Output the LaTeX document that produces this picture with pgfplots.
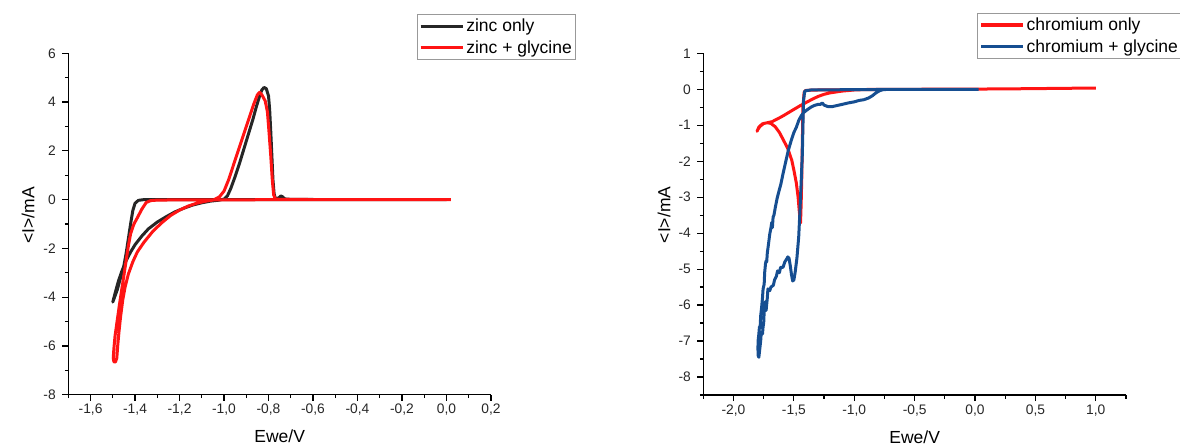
\documentclass[border=0pt]{standalone}
\usepackage{fontspec}
\setmainfont{Liberation Sans}
\usepackage{pgfplots}
\pgfplotsset{compat=1.18}
\definecolor{zblack}{RGB}{38,38,38}
\definecolor{zred}{RGB}{255,20,20}
\definecolor{cblue}{RGB}{22,78,145}
\pgfplotsset{
  cvstyle/.style={
    scale only axis,
    axis x line*=bottom, axis y line*=left,
    axis line style={-, line width=1.2pt, black},
    tick align=outside,
    major tick length=6pt, minor tick length=3.5pt,
    every tick/.style={line width=1.2pt, black},
    /pgf/number format/assume math mode=true,
    ticklabel style={font=\fontsize{13.8}{15}\selectfont, text=black!85},
    yticklabel style={xshift=-3pt},
    xticklabel style={/pgf/number format/.cd, fixed, fixed zerofill, precision=1, use comma},
    label style={font=\fontsize{17.5}{20}\selectfont},
    legend style={draw=gray!80, line width=1pt, inner xsep=2pt, inner ysep=2.5pt,
      font=\fontsize{17.5}{19}\selectfont, cells={anchor=west}, row sep=3.5pt},
    legend image code/.code={\draw[#1, line width=3.2pt] (0pt,0pt) -- (42pt,0pt);},
    legend cell align=left,
    xlabel={Ewe/V}, ylabel={<I>/mA},
    clip=false,
  }
}
\begin{document}
\begin{tikzpicture}
\begin{axis}[cvstyle,
  at={(68.3pt,50.3pt)}, anchor=south west,
  width=422.7pt, height=341.4pt,
  xmin=-1.7, xmax=0.2, ymin=-8, ymax=6,
  xtick={-1.6,-1.4,-1.2,-1.0,-0.8,-0.6,-0.4,-0.2,0.0,0.2},
  minor xtick={-1.7,-1.5,-1.3,-1.1,-0.9,-0.7,-0.5,-0.3,-0.1,0.1},
  ytick={-8,-6,-4,-2,0,2,4,6},
  minor ytick={-7,-5,-3,-1,1,3,5},
  xlabel style={at={(axis description cs:0.5,0)}, anchor=base, yshift=-48pt},
  ylabel style={at={(axis description cs:-0.0953,0.526)}, anchor=center},
  legend style={at={(axis description cs:0.824,1.115)}, anchor=north west},
]
\addplot[zblack, line width=3pt, line join=round] coordinates {
(0.00,0.00) (-0.30,0.00) (-0.60,0.00) (-0.90,0.00) (-1.10,0.00) (-1.30,0.00) (-1.36,0.00)
(-1.385,-0.03) (-1.40,-0.15) (-1.41,-0.45) (-1.42,-1.0) (-1.43,-1.6) (-1.44,-2.2) (-1.45,-2.7)
(-1.465,-3.2) (-1.48,-3.7) (-1.50,-4.2)
(-1.49,-3.85) (-1.475,-3.35) (-1.46,-2.95) (-1.44,-2.5) (-1.42,-2.15) (-1.40,-1.85) (-1.37,-1.5)
(-1.34,-1.2) (-1.30,-0.92) (-1.26,-0.7) (-1.22,-0.5) (-1.18,-0.35) (-1.14,-0.22) (-1.10,-0.13)
(-1.06,-0.06) (-1.02,-0.02) (-1.00,0.02) (-0.985,0.15) (-0.97,0.45) (-0.95,0.95) (-0.93,1.5)
(-0.91,2.1) (-0.89,2.7) (-0.87,3.3) (-0.855,3.8) (-0.84,4.25) (-0.83,4.5) (-0.82,4.6)
(-0.81,4.55) (-0.80,4.25) (-0.795,3.7) (-0.79,2.8) (-0.785,1.8) (-0.78,0.8) (-0.775,0.25)
(-0.77,0.05) (-0.755,0.06) (-0.745,0.15) (-0.737,0.12) (-0.727,0.03) (-0.70,0.01) (-0.50,0.0)
(-0.20,0.0) (0.0,0.0)};
\addlegendentry{zinc only}
\addplot[zred, line width=3pt, line join=round] coordinates {
(0.02,0.00) (-0.30,0.00) (-0.70,0.00) (-1.00,-0.01) (-1.20,-0.01) (-1.30,-0.02) (-1.33,-0.04)
(-1.35,-0.12) (-1.37,-0.4) (-1.39,-0.75) (-1.405,-1.0) (-1.42,-1.4) (-1.43,-1.9) (-1.44,-2.5)
(-1.45,-3.1) (-1.46,-3.7) (-1.47,-4.3) (-1.48,-4.95) (-1.49,-5.6) (-1.495,-6.1) (-1.498,-6.5)
(-1.495,-6.65) (-1.488,-6.66) (-1.482,-6.5) (-1.478,-6.0) (-1.472,-5.4) (-1.465,-4.8)
(-1.455,-4.1) (-1.445,-3.6) (-1.43,-3.05) (-1.41,-2.55) (-1.39,-2.15) (-1.36,-1.75)
(-1.32,-1.3) (-1.28,-0.95) (-1.24,-0.65) (-1.20,-0.43) (-1.16,-0.26) (-1.12,-0.14)
(-1.08,-0.06) (-1.05,-0.02) (-1.04,0.02) (-1.02,0.12) (-1.00,0.35) (-0.98,0.8) (-0.96,1.35)
(-0.94,1.9) (-0.92,2.45) (-0.90,3.0) (-0.88,3.55) (-0.865,3.95) (-0.85,4.3) (-0.84,4.4)
(-0.83,4.3) (-0.815,4.05) (-0.805,3.6) (-0.798,2.8) (-0.79,1.8) (-0.783,0.8) (-0.777,0.2)
(-0.77,0.03) (-0.75,0.01) (-0.50,0.0) (0.02,0.0)};
\addlegendentry{zinc + glycine}
\end{axis}
\begin{axis}[cvstyle,
  at={(703.3pt,50pt)}, anchor=south west,
  width=422.7pt, height=341.7pt,
  xmin=-2.25, xmax=1.25, ymin=-8.5, ymax=1,
  xtick={-2,-1.5,-1,-0.5,0,0.5,1},
  minor xtick={-2.25,-1.75,-1.25,-0.75,-0.25,0.25,0.75,1.25},
  ytick={-8,-7,-6,-5,-4,-3,-2,-1,0,1},
  minor ytick={-8.5,-7.5,-6.5,-5.5,-4.5,-3.5,-2.5,-1.5,-0.5,0.5},
  xlabel style={at={(axis description cs:0.5,0)}, anchor=base, yshift=-48pt},
  ylabel style={at={(axis description cs:-0.093,0.527)}, anchor=center},
  legend style={at={(axis description cs:0.6475,1.118)}, anchor=north west},
]
\addplot[zred, line width=3pt, line join=round] coordinates {
(1.0,0.035) (0.7,0.025) (0.4,0.015) (0.0,0.005) (-0.5,0.0) (-1.0,-0.01) (-1.3,-0.02)
(-1.40,-0.03) (-1.415,-0.08) (-1.425,-0.5) (-1.43,-1.5) (-1.435,-2.5) (-1.44,-3.2) (-1.445,-3.72)
(-1.455,-3.4) (-1.465,-3.0) (-1.48,-2.6) (-1.50,-2.25) (-1.517,-1.98) (-1.55,-1.65)
(-1.587,-1.41) (-1.62,-1.2) (-1.655,-1.04) (-1.69,-0.95) (-1.72,-0.93) (-1.75,-0.95)
(-1.78,-1.03) (-1.80,-1.13) (-1.805,-1.17)
(-1.79,-1.05) (-1.76,-0.96) (-1.72,-0.93) (-1.68,-0.9) (-1.64,-0.83) (-1.60,-0.76)
(-1.55,-0.66) (-1.50,-0.56) (-1.45,-0.46) (-1.40,-0.37) (-1.35,-0.28) (-1.30,-0.2)
(-1.25,-0.14) (-1.20,-0.1) (-1.10,-0.05) (-1.00,-0.02) (-0.85,0.0) (-0.5,0.0) (0.0,0.0)};
\addlegendentry{chromium only}
\addplot[cblue, line width=3pt, line join=round] coordinates {
(0.03,0.0) (-0.5,0.0) (-1.0,-0.01) (-1.36,-0.02) (-1.40,-0.04) (-1.41,-0.05) (-1.42,-0.3)
(-1.425,-1.0) (-1.43,-1.8) (-1.44,-2.6) (-1.45,-3.4) (-1.46,-4.1) (-1.475,-4.7) (-1.49,-5.1)
(-1.50,-5.3) (-1.51,-5.33) (-1.52,-5.15) (-1.53,-4.9) (-1.54,-4.7) (-1.55,-4.66) (-1.56,-4.72)
(-1.575,-4.8) (-1.59,-4.95) (-1.61,-4.95) (-1.62,-5.1) (-1.635,-5.05) (-1.645,-5.2)
(-1.66,-5.3) (-1.67,-5.45) (-1.69,-5.5) (-1.70,-5.6) (-1.715,-5.55) (-1.72,-5.8)
(-1.73,-6.15) (-1.735,-5.9) (-1.745,-6.1) (-1.75,-6.5) (-1.755,-6.6) (-1.76,-6.8)
(-1.77,-6.75) (-1.775,-7.0) (-1.785,-7.3) (-1.79,-7.45) (-1.795,-7.42)
(-1.798,-7.2) (-1.795,-6.95) (-1.79,-6.8) (-1.785,-6.6) (-1.78,-6.65) (-1.775,-6.3)
(-1.767,-6.06) (-1.76,-5.8) (-1.755,-5.55) (-1.746,-5.42) (-1.742,-5.1) (-1.735,-4.85)
(-1.73,-4.77) (-1.725,-4.8) (-1.72,-4.55) (-1.71,-4.3) (-1.70,-4.03) (-1.69,-3.85)
(-1.683,-3.7) (-1.678,-3.85) (-1.672,-3.55) (-1.665,-3.5) (-1.654,-3.29) (-1.64,-3.05)
(-1.625,-2.85) (-1.608,-2.64) (-1.59,-2.35) (-1.57,-2.05) (-1.547,-1.71) (-1.52,-1.4)
(-1.50,-1.2) (-1.48,-1.06) (-1.46,-0.87) (-1.44,-0.74) (-1.42,-0.65) (-1.39,-0.57)
(-1.36,-0.5) (-1.33,-0.45) (-1.30,-0.42) (-1.28,-0.42) (-1.265,-0.38) (-1.25,-0.44)
(-1.22,-0.48) (-1.18,-0.48) (-1.14,-0.45) (-1.10,-0.42) (-1.05,-0.38) (-1.00,-0.35)
(-0.96,-0.31) (-0.92,-0.29) (-0.88,-0.24) (-0.85,-0.18) (-0.82,-0.1) (-0.79,-0.04)
(-0.76,-0.01) (-0.70,0.0) (-0.3,0.0) (0.03,0.0)};
\addlegendentry{chromium + glycine}
\end{axis}
\pgfresetboundingbox
\path[use as bounding box] (0,0) rectangle (1180pt,445pt);
\end{tikzpicture}
\end{document}
